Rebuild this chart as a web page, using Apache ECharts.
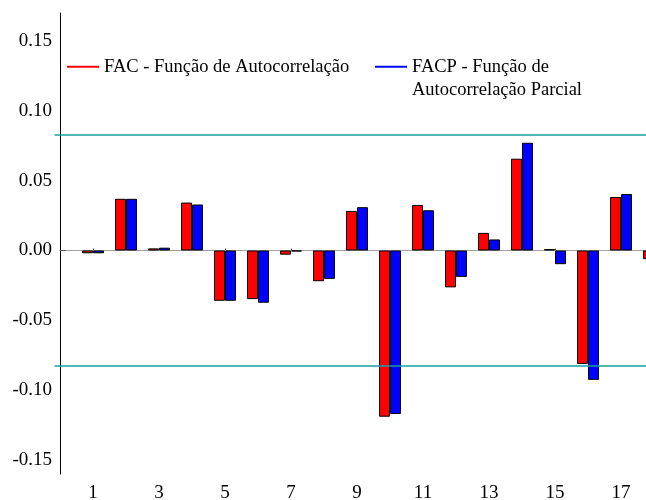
<!DOCTYPE html>
<html>
<head>
<meta charset="utf-8">
<script src="https://cdn.jsdelivr.net/npm/echarts@6/dist/echarts.min.js"></script>
<style>
  html, body { margin: 0; padding: 0; background: #fff; }
  #chart { width: 646px; height: 500px; }
</style>
</head>
<body>
<div id="chart"></div>
<script>
// lags 0..18 (0 is empty, 18 is cut by the right edge)
var lags = ['0','1','2','3','4','5','6','7','8','9','10','11','12','13','14','15','16','17','18'];
var facName = 'FAC - Função de Autocorrelação';
var facpName = 'FACP - Função de Autocorrelação Parcial';
var facpLines = ['FACP - Função de', 'Autocorrelação Parcial'];
var fac = [null, -0.002, 0.037, 0.0015, 0.0343, -0.036, -0.0348, -0.003, -0.022, 0.0283,
  -0.119, 0.0326, -0.0264, 0.0126, 0.0657, 0.001, -0.0812, 0.0383, -0.0062];
var facp = [null, -0.002, 0.037, 0.002, 0.0329, -0.036, -0.0374, -0.0007, -0.0203, 0.031,
  -0.117, 0.0288, -0.0189, 0.0079, 0.0771, -0.0098, -0.0926, 0.0404, null];
var limit = 0.0825;   // confidence band
var yMin = -0.16, yMax = 0.17;

var font = "'Liberation Serif', 'Times New Roman', serif";
var red = '#ff0000', blue = '#0000ff', teal = '#16a0a0';

function oddLag(idx) { return idx % 2 === 1; }

function legendFor(name, color, left, top, fmt) {
  var lg = {
    orient: 'horizontal',
    left: left, top: top,
    padding: 0,
    icon: 'rect',
    itemWidth: 32,
    itemHeight: 2,
    selectedMode: false,
    itemStyle: { color: color, borderColor: color, borderWidth: 0, opacity: 1 },
    textStyle: { fontFamily: font, fontSize: 18.5, lineHeight: 23.5, color: '#000' },
    data: [{ name: name, icon: 'rect', itemStyle: { color: color, borderColor: color, borderWidth: 0, opacity: 1 } }]
  };
  if (fmt) lg.formatter = fmt;
  return lg;
}

// horizontal line across the whole category range
function hLine(v, color, w) {
  var ls = { color: color, width: w, type: 'solid', opacity: 1 };
  return [
    { coord: [lags[0], v], lineStyle: ls },
    { coord: [lags[lags.length - 1], v], lineStyle: ls }
  ];
}

var option = {
  animation: false,
  backgroundColor: '#fff',
  grid: { left: 60, top: 13, height: 461, width: 594, outerBoundsMode: 'none', containLabel: false },
  legend: [
    legendFor(facName, red, 67, 55),
    legendFor(facpName, blue, 375, 31.5, function () { return '\n' + facpLines.join('\n'); })
  ],
  xAxis: {
    type: 'category',
    data: lags,
    boundaryGap: false,
    axisLine: { lineStyle: { color: '#555', width: 1 } },
    axisTick: { show: true, inside: true, length: 2, interval: oddLag, lineStyle: { color: '#555' } },
    axisLabel: { interval: oddLag, margin: 10, fontFamily: font, fontSize: 19, color: '#000' },
    splitLine: { show: false }
  },
  yAxis: {
    type: 'value',
    min: yMin,
    max: yMax,
    splitNumber: 5,
    axisLine: { show: true, lineStyle: { color: '#000', width: 1 } },
    axisTick: { show: false },
    splitLine: { show: false },
    axisLabel: {
      showMinLabel: false, showMaxLabel: false, margin: 8,
      fontFamily: font, fontSize: 19, color: '#000',
      formatter: function (v) { return v.toFixed(2); }
    }
  },
  series: [
    {
      name: facName, type: 'bar', data: fac,
      barWidth: 11, barGap: '0%',
      itemStyle: { color: red, borderColor: '#000', borderWidth: 1 },
      markLine: {
        silent: true, symbol: 'none', z: 5,
        label: { show: false },
        lineStyle: { color: teal, width: 1.5, type: 'solid' },
        data: [hLine(limit, teal, 1.5), hLine(-limit, teal, 1.5)]
      }
    },
    {
      name: facpName, type: 'bar', data: facp,
      barWidth: 11, barGap: '0%',
      itemStyle: { color: blue, borderColor: '#000', borderWidth: 1 },
      markLine: {
        silent: true, symbol: 'none', z: 1,
        label: { show: false },
        lineStyle: { color: '#a0a0a0', width: 1, type: 'solid' },
        data: [hLine(0, '#a0a0a0', 1)]
      }
    }
  ]
};

echarts.init(document.getElementById('chart')).setOption(option);
</script>
</body>
</html>
